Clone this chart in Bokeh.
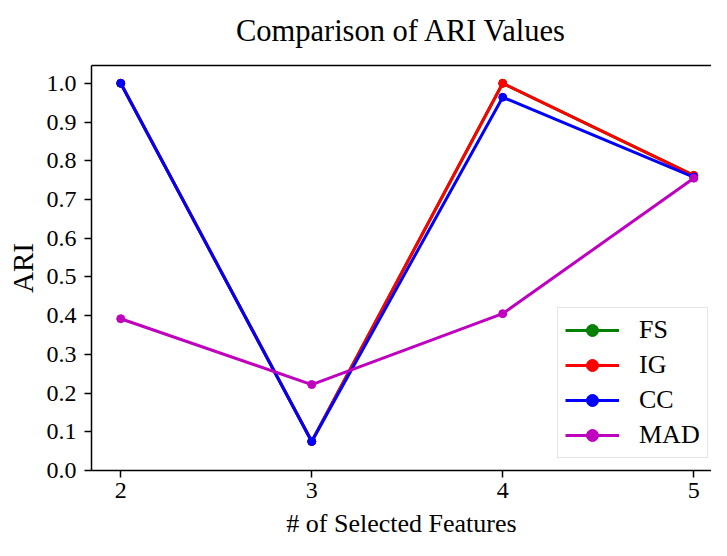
from bokeh.plotting import figure
from bokeh.models import Range1d, FixedTicker, PrintfTickFormatter, LinearAxis
from bokeh.embed import file_html
from bokeh.resources import INLINE

# ---- data ----
features = [2, 3, 4, 5]
fs_vals = [1.0, 0.075, 1.0, 0.762]
ig_vals = [1.0, 0.075, 1.0, 0.762]
cc_vals = [1.0, 0.075, 0.964, 0.758]
mad_vals = [0.392, 0.222, 0.405, 0.755]
series_names = ["FS", "IG", "CC", "MAD"]
series_colors = ["green", "red", "blue", "#bf00bf"]
y_ticks = [0.0, 0.1, 0.2, 0.3, 0.4, 0.5, 0.6, 0.7, 0.8, 0.9, 1.0]
x_ticks = [2, 3, 4, 5]
title_text = "Comparison of ARI Values"

FONT = "Liberation Serif"

p = figure(width=711, height=540, output_backend="svg", toolbar_location=None,
           x_range=Range1d(1.847, 5.093), y_range=Range1d(0.0, 1.046),
           min_border_left=91, min_border_right=0, min_border_top=65,
           min_border_bottom=68)

p.xgrid.visible = False
p.ygrid.visible = False
p.outline_line_color = None
p.background_fill_color = "white"
p.border_fill_color = "white"

p.axis.axis_line_color = "black"
p.axis.axis_line_width = 1.5
p.axis.major_tick_line_color = "black"
p.axis.major_tick_line_width = 1.5
p.axis.major_tick_in = 0
p.axis.major_tick_out = 7
p.axis.minor_tick_line_color = None
p.axis.major_label_text_font = FONT
p.axis.major_label_text_font_size = "24px"
p.axis.major_label_text_color = "black"
p.axis.axis_label_text_font = FONT
p.axis.axis_label_text_font_style = "normal"
p.axis.axis_label_text_color = "black"

p.xaxis.axis_label_text_font_size = "26px"
p.yaxis.axis_label_text_font_size = "29px"
p.xaxis.ticker = FixedTicker(ticks=x_ticks)
p.xaxis.formatter = PrintfTickFormatter(format="%d")
p.yaxis.ticker = FixedTicker(ticks=y_ticks)
p.yaxis.formatter = PrintfTickFormatter(format="%.1f")
p.xaxis.axis_label = "# of Selected Features"
p.yaxis.axis_label = "ARI"
p.xaxis.major_label_standoff = 5
p.xaxis.axis_label_standoff = 8
p.yaxis.major_label_standoff = 8
p.yaxis.axis_label_standoff = 5

# top spine + chart title (an axis above the frame, without ticks)
top_axis = LinearAxis(ticker=FixedTicker(ticks=[]), axis_label=title_text,
                      axis_line_color="black", axis_line_width=1.5,
                      major_tick_line_color=None, minor_tick_line_color=None,
                      major_label_text_font_size="0px",
                      axis_label_text_font=FONT, axis_label_text_font_size="30.5px",
                      axis_label_text_font_style="normal", axis_label_text_color="black",
                      axis_label_standoff=18)
p.add_layout(top_axis, "above")

all_vals = [fs_vals, ig_vals, cc_vals, mad_vals]
for name, col, vals in zip(series_names, series_colors, all_vals):
    p.line(features, vals, line_color=col, line_width=3, legend_label=name)
    p.scatter(features, vals, size=8, fill_color=col, line_color=col, legend_label=name)

lg = p.legend[0]
lg.location = (466, 12)
lg.label_text_font = FONT
lg.label_text_font_size = "26px"
lg.label_text_color = "black"
lg.glyph_width = 54
lg.glyph_height = 30
lg.label_height = 30
lg.label_standoff = 20
lg.spacing = 5
lg.padding = 7
lg.margin = 0
lg.border_line_color = "#cccccc"
lg.border_line_width = 1.5
lg.background_fill_color = "white"
lg.background_fill_alpha = 0.8

open("out.html", "w").write(file_html(p, INLINE))
